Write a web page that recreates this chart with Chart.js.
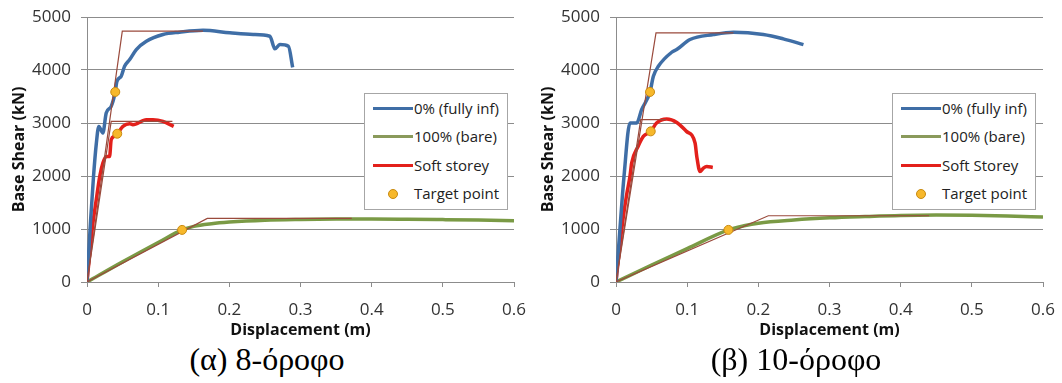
<!DOCTYPE html>
<html>
<head>
<meta charset="utf-8">
<script src="https://cdn.jsdelivr.net/npm/chart.js@4.4.0/dist/chart.umd.min.js"></script>
<style>
  body { margin: 0; background: #fff; width: 1062px; height: 383px; overflow: hidden; position: relative; }
  .panel { position: absolute; top: 0; width: 530px; height: 340px; }
  .legend {
    position: absolute; top: 93px; width: 142px; height: 115px;
    border: 1px solid #a6a6a6; background: #fff;
    font-family: 'Open Sans', sans-serif; font-size: 15px; color: #222;
  }
  .legend .item { position: absolute; left: 0; height: 20px; line-height: 20px; white-space: nowrap; }
  .legend .swatch { position: absolute; left: 8px; top: 8px; width: 40px; height: 3px; }
  .legend .dot {
    position: absolute; left: 23px; top: 5px; width: 8px; height: 8px;
    border-radius: 50%; border: 1px solid #c88a10;
  }
  .legend .text { position: absolute; left: 49px; top: -1px; }
  .caption {
    position: absolute; top: 341px; width: 300px; text-align: center;
    font-family: 'Liberation Serif', 'Times New Roman', serif; font-size: 32px; line-height: 36px; color: #000;
  }
</style>
</head>
<body>
<div class="panel" style="left:0"><canvas id="chart8" width="530" height="340"></canvas></div>
<div class="panel" style="left:529px"><canvas id="chart10" width="530" height="340"></canvas></div>
<div class="legend" id="legend8" style="left:364px"></div>
<div class="legend" id="legend10" style="left:892px"></div>
<div class="caption" style="left:117px">(α) 8-όροφο</div>
<div class="caption" style="left:646px">(β) 10-όροφο</div>

<script>
// Axes
const xTicks = [0, 0.1, 0.2, 0.3, 0.4, 0.5, 0.6];
const yTicks = [0, 1000, 2000, 3000, 4000, 5000];

// Legend labels
const labels8 = ['0% (fully inf)', '100% (bare)', 'Soft storey', 'Target point'];
const labels10 = ['0% (fully inf)', '100% (bare)', 'Soft Storey', 'Target point'];

// 8-storey : displacement (m) / base shear (kN)
const blue8X = [0, 0.005, 0.0092, 0.013, 0.0166, 0.0223, 0.027, 0.034, 0.0397, 0.042, 0.048, 0.0528, 0.06, 0.0693, 0.0834, 0.1068, 0.13, 0.163, 0.2007, 0.2335, 0.257, 0.264, 0.271, 0.283, 0.289];
const blue8Y = [0, 1150, 2000, 2600, 2936, 2811, 3189, 3314, 3586, 3786, 3881, 4070, 4197, 4386, 4543, 4669, 4713, 4750, 4701, 4669, 4637, 4399, 4480, 4448, 4051];
const red8X = [0, 0.0073, 0.013, 0.018, 0.0223, 0.027, 0.0317, 0.034, 0.0387, 0.0425, 0.0505, 0.06, 0.0645, 0.0834, 0.0927, 0.1068, 0.1218];
const red8Y = [0, 1000, 1550, 2000, 2244, 2369, 2369, 2684, 2750, 2798, 2936, 2987, 2968, 3062, 3062, 3030, 2936];
const green8X = [0, 0.05, 0.1, 0.1336, 0.15, 0.175, 0.2, 0.25, 0.3, 0.35, 0.4, 0.45, 0.5, 0.55, 0.6];
const green8Y = [0, 380, 745, 983, 1050, 1100, 1130, 1165, 1180, 1188, 1190, 1185, 1177, 1168, 1157];
// idealised bilinear curves
const biBlue8X = [0, 0.0496, 0.163];
const biBlue8Y = [0, 4732, 4732];
const biRed8X = [0, 0.034, 0.12];
const biRed8Y = [0, 3030, 3030];
const biGreen8X = [0, 0.169, 0.372];
const biGreen8Y = [0, 1200, 1200];
const target8X = [0.0397, 0.0425, 0.1336];
const target8Y = [3586, 2798, 983];

// 10-storey
const blue10X = [0, 0.005, 0.0113, 0.0197, 0.0291, 0.036, 0.0478, 0.0525, 0.0595, 0.0783, 0.0853, 0.104, 0.137, 0.165, 0.207, 0.235, 0.2634];
const blue10Y = [0, 900, 2000, 3000, 3000, 3251, 3586, 3881, 4070, 4335, 4386, 4575, 4669, 4713, 4669, 4588, 4480];
const red10X = [0, 0.005, 0.01, 0.015, 0.0197, 0.022, 0.031, 0.0384, 0.0488, 0.057, 0.0713, 0.0854, 0.099, 0.1111, 0.1135, 0.118, 0.1228, 0.1275, 0.136];
const red10Y = [0, 650, 1200, 1650, 2000, 2244, 2558, 2747, 2842, 3000, 3076, 3011, 2842, 2622, 2369, 2085, 2149, 2180, 2161];
const green10X = [0, 0.05, 0.1, 0.158, 0.18, 0.2, 0.25, 0.3, 0.35, 0.4, 0.45, 0.5, 0.55, 0.6];
const green10Y = [0, 320, 630, 983, 1060, 1110, 1170, 1210, 1235, 1255, 1262, 1258, 1245, 1225];
const biBlue10X = [0, 0.0562, 0.165];
const biBlue10Y = [0, 4701, 4701];
const biRed10X = [0, 0.0347, 0.07];
const biRed10Y = [0, 3062, 3062];
const biGreen10X = [0, 0.214, 0.44];
const biGreen10Y = [0, 1250, 1250];
const target10X = [0.0478, 0.0488, 0.158];
const target10Y = [3586, 2842, 983];

// Couleurs
const colors = {
  blue: '#3f6ea6',
  green: '#7a9a45',
  red: '#e3201b',
  bilinear: '#9a4a3c',
  target: '#f7b82b',
  targetBorder: '#c88a10',
  grid: '#8c8c8c',
  text: '#333333'
};

const pts = (xs, ys) => xs.map((x, i) => ({ x, y: ys[i] }));

const curve = (label, xs, ys, color, order) => ({
  label, data: pts(xs, ys), borderColor: color, backgroundColor: color,
  borderWidth: 3.5, pointRadius: 0, cubicInterpolationMode: 'monotone', order
});

const bilinear = (xs, ys) => ({
  label: 'bilinear', data: pts(xs, ys), borderColor: colors.bilinear,
  borderWidth: 1.2, pointRadius: 0, tension: 0, order: 1
});

const buildChart = (id, lbl, s) => new Chart(document.getElementById(id), {
  type: 'line',
  data: {
    datasets: [
      {
        label: lbl[3], data: pts(s.tx, s.ty), showLine: false,
        pointRadius: 4.5, pointBackgroundColor: colors.target,
        pointBorderColor: colors.targetBorder, pointBorderWidth: 1, order: 0
      },
      bilinear(s.bbx, s.bby),
      bilinear(s.brx, s.bry),
      bilinear(s.bgx, s.bgy),
      curve(lbl[0], s.bx, s.by, colors.blue, 2),
      curve(lbl[2], s.rx, s.ry, colors.red, 3),
      curve(lbl[1], s.gx, s.gy, colors.green, 4)
    ]
  },
  options: {
    responsive: false,
    animation: false,
    layout: { padding: { top: 17, right: 16, left: 0, bottom: 0 } },
    plugins: { legend: { display: false }, tooltip: { enabled: false } },
    scales: {
      x: {
        type: 'linear', min: 0, max: 0.6,
        afterBuildTicks: sc => { sc.ticks = xTicks.map(v => ({ value: v })); },
        ticks: {
          color: colors.text, padding: 13, maxRotation: 0,
          font: { family: 'Open Sans', size: 17 },
          callback: v => String(v)
        },
        grid: { drawOnChartArea: false, tickLength: 5, color: colors.grid },
        border: { color: colors.grid },
        title: {
          display: true, text: 'Displacement (m)', color: '#111',
          font: { family: 'Open Sans', size: 16, weight: 'bold' }, padding: { top: 3, bottom: 0 }
        },
        afterFit: sc => { sc.height = 58; sc.paddingLeft = 0; sc.paddingRight = 0; }
      },
      y: {
        type: 'linear', min: 0, max: 5000,
        afterBuildTicks: sc => { sc.ticks = yTicks.map(v => ({ value: v })); },
        ticks: {
          color: colors.text, padding: 10,
          font: { family: 'Open Sans', size: 17 },
          callback: v => String(v)
        },
        grid: { color: colors.grid, tickLength: 6 },
        border: { color: colors.grid },
        title: {
          display: true, text: 'Base Shear (kN)', color: '#111',
          font: { family: 'Open Sans', size: 16, weight: 'bold' }, padding: { top: 10, bottom: 0 }
        },
        afterFit: sc => { sc.width = 87; sc.paddingTop = 0; sc.paddingBottom = 0; }
      }
    }
  }
});

// Légende HTML
const buildLegend = (id, lbl) => {
  const box = document.getElementById(id);
  const swatches = [colors.blue, '#8a9a5b', colors.red, null];
  lbl.forEach((text, i) => {
    const item = document.createElement('div');
    item.className = 'item';
    item.style.top = (5 + i * 28.3) + 'px';
    item.style.width = '140px';
    if (swatches[i]) {
      const sw = document.createElement('div');
      sw.className = 'swatch';
      sw.style.background = swatches[i];
      item.appendChild(sw);
    } else {
      const dot = document.createElement('div');
      dot.className = 'dot';
      dot.style.background = colors.target;
      item.appendChild(dot);
    }
    const t = document.createElement('span');
    t.className = 'text';
    t.textContent = text;
    item.appendChild(t);
    box.appendChild(item);
  });
};

buildChart('chart8', labels8, {
  bx: blue8X, by: blue8Y, rx: red8X, ry: red8Y, gx: green8X, gy: green8Y,
  bbx: biBlue8X, bby: biBlue8Y, brx: biRed8X, bry: biRed8Y, bgx: biGreen8X, bgy: biGreen8Y,
  tx: target8X, ty: target8Y
});
buildChart('chart10', labels10, {
  bx: blue10X, by: blue10Y, rx: red10X, ry: red10Y, gx: green10X, gy: green10Y,
  bbx: biBlue10X, bby: biBlue10Y, brx: biRed10X, bry: biRed10Y, bgx: biGreen10X, bgy: biGreen10Y,
  tx: target10X, ty: target10Y
});
buildLegend('legend8', labels8);
buildLegend('legend10', labels10);
</script>
</body>
</html>
